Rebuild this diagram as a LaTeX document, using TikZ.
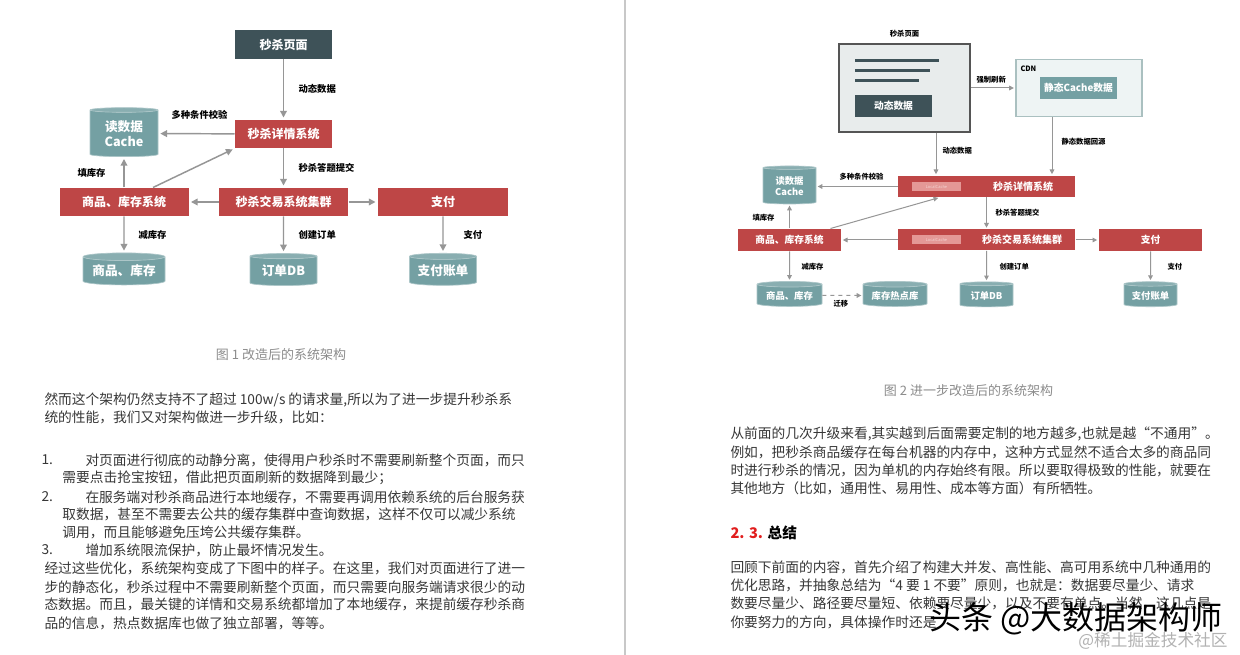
\documentclass[tikz,border=0pt]{standalone}
\usepackage{fontspec}
\setmainfont{Noto Sans CJK SC}
\usetikzlibrary{arrows.meta,shapes.geometric}

\definecolor{skred}{RGB}{190,70,70}
\definecolor{skslate}{RGB}{62,82,88}
\definecolor{skteal}{RGB}{116,160,163}
\definecolor{skarrow}{RGB}{150,150,150}
\definecolor{skpage}{RGB}{232,236,236}
\definecolor{skcdn}{RGB}{238,244,244}
\definecolor{skpink}{RGB}{228,152,150}
\definecolor{sktext}{RGB}{55,55,55}
\definecolor{skcap}{RGB}{140,140,140}
\definecolor{skhead}{RGB}{225,30,30}

\tikzset{every picture/.style={line width=0.75pt}}
\tikzset{
  redbox/.style={fill=skred, text=white, inner sep=0pt, font=\fontsize{9}{9}\selectfont\bfseries},
  redboxsm/.style={fill=skred, inner sep=0pt},
  slatebox/.style={fill=skslate, text=white, inner sep=0pt, font=\fontsize{9}{9}\selectfont\bfseries},
  dbcyl/.style={cylinder, shape border rotate=90, aspect=0.12, cylinder uses custom fill,
    cylinder body fill=skteal, cylinder end fill=skteal!85!white, draw=skteal!60!white,
    line width=0.5pt, text=white, inner sep=0pt, align=center, font=\fontsize{9.5}{11}\selectfont\bfseries},
  dbcylsm/.style={dbcyl, font=\fontsize{7}{8.5}\selectfont\bfseries},
  lbl/.style={anchor=west, inner sep=0pt, font=\fontsize{7}{7}\selectfont\bfseries},
  lblsm/.style={anchor=west, inner sep=0pt, font=\fontsize{5.5}{5.5}\selectfont\bfseries},
  boxtxtsm/.style={inner sep=0pt, text=white, font=\fontsize{7.5}{7.5}\selectfont\bfseries},
  lcbox/.style={fill=skpink, text=skpink!40!white, inner sep=0pt, minimum width=36.75pt, minimum height=6.75pt, font=\fontsize{3}{3}\selectfont},
  flow/.style={draw=skarrow, line width=1.1pt, shorten >=1.5pt, -{Triangle[length=5pt,width=5pt]}},
  flowsm/.style={draw=skarrow, line width=0.75pt, shorten >=1pt, -{Triangle[length=3.5pt,width=3.5pt]}},
  body/.style={anchor=west, inner sep=0pt, text=sktext, font=\fontsize{10.3}{10.3}\selectfont},
  caption/.style={inner sep=0pt, text=skcap, font=\fontsize{9.75}{9.75}\selectfont}
}

\begin{document}
\begin{tikzpicture}[x=0.75pt,y=0.75pt,yscale=-1,xscale=1]
    %set diagram left start at 0, and has height of 655
    \fill[white] (0,0) rectangle (1240,655);
    \useasboundingbox (0,0) rectangle (1240,655);

    %Straight Lines: page divider
    \draw [color={rgb, 255:red, 200; green, 200; blue, 200 }  ,draw opacity=1 ][line width=1.2]    (625,0) -- (625,655) ;

    %%%%% Figure 1
    %Shape: Rectangle
    \node [slatebox, minimum width=72.75pt, minimum height=21.75pt] (page1) at (283.5,44.5) {秒杀页面};
    %Shape: Rectangle
    \node [redbox, minimum width=72.75pt, minimum height=21pt] (detail1) at (283.5,134) {秒杀详情系统};
    %Shape: Can
    \node [dbcyl, minimum width=51pt, minimum height=36.75pt] (cache1) at (124,133.5) {读数据\\Cache};
    %Shape: Rectangle
    \node [redbox, minimum width=96.75pt, minimum height=21pt] (goods1) at (124,202) {商品、库存系统};
    %Shape: Rectangle
    \node [redbox, minimum width=96.75pt, minimum height=21pt] (trade1) at (283.5,202) {秒杀交易系统集群};
    %Shape: Rectangle
    \node [redbox, minimum width=97.5pt, minimum height=21pt] (pay1) at (443,202) {支付};
    %Shape: Can
    \node [dbcyl, minimum width=61.5pt, minimum height=24pt] (stock1) at (124,271) {商品、库存};
    %Shape: Can
    \node [dbcyl, minimum width=50.25pt, minimum height=24pt] (order1) at (283.5,271) {订单DB};
    %Shape: Can
    \node [dbcyl, minimum width=50.25pt, minimum height=24pt] (bill1) at (443,271) {支付账单};

    %Straight Lines
    \draw [flow] (page1) -- (detail1) ;
    \draw [flow] (detail1) -- (cache1) ;
    \draw [flow] (goods1) -- (cache1) ;
    \draw [flow] ([xshift=21.75pt]goods1.north) -- (detail1.south west) ;
    \draw [flow] (detail1) -- (trade1) ;
    \draw [flow] (trade1) -- (goods1) ;
    \draw [flow] (trade1) -- (pay1) ;
    \draw [flow] (goods1) -- (stock1) ;
    \draw [flow] (trade1) -- (order1) ;
    \draw [flow] (pay1) -- (bill1) ;

    % Text Node
    \node [lbl] (l1dyn) at (298,89) {动态数据};
    % Text Node
    \node [lbl] (l1chk) at (171,115) {多种条件校验};
    % Text Node
    \node [lbl] (l1ans) at (298,168) {秒杀答题提交};
    % Text Node
    \node [lbl] (l1fill) at (77,173) {填库存};
    % Text Node
    \node [lbl] (l1dec) at (138,235) {减库存};
    % Text Node
    \node [lbl] (l1ord) at (298,235) {创建订单};
    % Text Node
    \node [lbl] (l1pay) at (463,235) {支付};

    % Text Node
    \node [caption] (cap1) at (281,355) {图 1 改造后的系统架构};

    % Text Node
    \node [body] (p1a) at (44,400) {然而这个架构仍然支持不了超过 100w/s 的请求量,所以为了进一步提升秒杀系};
    \node [body] (p1b) at (44,417) {统的性能，我们又对架构做进一步升级，比如：};
    \node [body] (n1) at (41,460) {1.};
    \node [body] (i1a) at (85,460) {对页面进行彻底的动静分离，使得用户秒杀时不需要刷新整个页面，而只};
    \node [body] (i1b) at (62,478) {需要点击抢宝按钮，借此把页面刷新的数据降到最少；};
    \node [body] (n2) at (41,497) {2.};
    \node [body] (i2a) at (85,497) {在服务端对秒杀商品进行本地缓存，不需要再调用依赖系统的后台服务获};
    \node [body] (i2b) at (62,514) {取数据，甚至不需要去公共的缓存集群中查询数据，这样不仅可以减少系统};
    \node [body] (i2c) at (62,532) {调用，而且能够避免压垮公共缓存集群。};
    \node [body] (n3) at (41,550) {3.};
    \node [body] (i3a) at (85,550) {增加系统限流保护，防止最坏情况发生。};
    \node [body] (p2a) at (44,568) {经过这些优化，系统架构变成了下图中的样子。在这里，我们对页面进行了进一};
    \node [body] (p2b) at (44,587) {步的静态化，秒杀过程中不需要刷新整个页面，而只需要向服务端请求很少的动};
    \node [body] (p2c) at (44,604) {态数据。而且，最关键的详情和交易系统都增加了本地缓存，来提前缓存秒杀商};
    \node [body] (p2d) at (44,623) {品的信息，热点数据库也做了独立部署，等等。};

    %%%%% Figure 2
    % Text Node
    \node [lblsm, anchor=center] (l2page) at (904.5,34) {秒杀页面};
    %Shape: Rectangle
    \node [fill=skpage, draw={rgb, 255:red, 85; green, 85; blue, 85 }, line width=1.2, minimum width=98.25pt, minimum height=66pt] (page2) at (904.5,88) {};
    %Straight Lines
    \draw [color=skslate, line width=2.25] (855,61) -- (939,61) (855,71) -- (930,71) (855,81) -- (919,81) ;
    %Shape: Rectangle
    \node [slatebox, minimum width=57.75pt, minimum height=16.5pt, font=\fontsize{7.3}{7.3}\selectfont\bfseries] (dyn2) at (893.5,106) {动态数据};
    %Shape: Rectangle
    \node [fill=skcdn, draw={rgb, 255:red, 170; green, 192; blue, 192 }, line width=1.2, minimum width=94.5pt, minimum height=42.75pt] (cdn2) at (1079,88) {};
    % Text Node
    \node [lblsm] (l2cdn) at (1020,69) {CDN};
    %Shape: Rectangle
    \node [fill=skteal, text=white, inner sep=0pt, minimum width=57.75pt, minimum height=16.5pt, font=\fontsize{7.3}{7.3}\selectfont\bfseries] (static2) at (1078.5,88) {静态Cache数据};

    %Shape: Rectangle
    \node [redboxsm, minimum width=132.75pt, minimum height=15.75pt] (detail2) at (986.5,186.5) {};
    \node [lcbox] (lc2a) at (936.5,186.5) {LocalCache};
    \node [boxtxtsm] (detail2t) at (1023,186.5) {秒杀详情系统};
    %Shape: Rectangle
    \node [redboxsm, minimum width=132.75pt, minimum height=15.75pt] (trade2) at (986.5,240) {};
    \node [lcbox] (lc2b) at (936.5,240) {LocalCache};
    \node [boxtxtsm] (trade2t) at (1022,240) {秒杀交易系统集群};
    %Shape: Can
    \node [dbcylsm, minimum width=39.75pt, minimum height=28.5pt] (cache2) at (789.5,186) {读数据\\Cache};
    %Shape: Rectangle
    \node [redbox, minimum width=77.25pt, minimum height=16.5pt, font=\fontsize{7.3}{7.3}\selectfont\bfseries] (goods2) at (789.5,240) {商品、库存系统};
    %Shape: Rectangle
    \node [redbox, minimum width=77.25pt, minimum height=16.5pt, font=\fontsize{7.3}{7.3}\selectfont\bfseries] (pay2) at (1150.5,240) {支付};
    %Shape: Can
    \node [dbcylsm, minimum width=48.75pt, minimum height=18.75pt] (stock2) at (789.5,295.5) {商品、库存};
    %Shape: Can
    \node [dbcylsm, minimum width=48pt, minimum height=18.75pt] (hot2) at (895,295.5) {库存热点库};
    %Shape: Can
    \node [dbcylsm, minimum width=39.75pt, minimum height=18.75pt] (order2) at (986.5,295.5) {订单DB};
    %Shape: Can
    \node [dbcylsm, minimum width=39.75pt, minimum height=18.75pt] (bill2) at (1150.5,295.5) {支付账单};

    \coordinate (dynx) at (936,0);
    \coordinate (srcx) at (1052,0);
    %Straight Lines
    \draw [flowsm] (page2) -- (cdn2) ;
    \draw [flowsm] (page2.south -| dynx) -- (detail2.north -| dynx) ;
    \draw [flowsm] (cdn2.south -| srcx) -- (detail2.north -| srcx) ;
    \draw [flowsm] (detail2.west) -- (detail2.west -| cache2.east) ;
    \draw [flowsm] (goods2) -- (cache2) ;
    \draw [flowsm] ([xshift=-8.25pt]goods2.north east) -- ([xshift=31.5pt]detail2.south west) ;
    \draw [flowsm] (detail2) -- (trade2) ;
    \draw [flowsm] (trade2) -- (goods2) ;
    \draw [flowsm] (trade2) -- (pay2) ;
    \draw [flowsm] (goods2) -- (stock2) ;
    \draw [flowsm] (trade2) -- (order2) ;
    \draw [flowsm] (pay2) -- (bill2) ;
    \draw [flowsm, dashed] (stock2) -- (hot2) ;

    % Text Node
    \node [lblsm] (l2force) at (976,80) {强制刷新};
    \node [lblsm] (l2dyn) at (942,151) {动态数据};
    \node [lblsm] (l2src) at (1061,142) {静态数据回源};
    \node [lblsm] (l2chk) at (839,177) {多种条件校验};
    \node [lblsm] (l2fill) at (752,218) {填库存};
    \node [lblsm] (l2ans) at (995,213) {秒杀答题提交};
    \node [lblsm] (l2dec) at (801,267) {减库存};
    \node [lblsm] (l2ord) at (999,267) {创建订单};
    \node [lblsm] (l2pay) at (1167,267) {支付};
    \node [lblsm] (l2move) at (833,304) {迁移};

    % Text Node
    \node [caption] (cap2) at (968.5,391) {图 2 进一步改造后的系统架构};

    % Text Node
    \node [body] (r1a) at (730,434) {从前面的几次升级来看,其实越到后面需要定制的地方越多,也就是越“不通用”。};
    \node [body] (r1b) at (730,452) {例如，把秒杀商品缓存在每台机器的内存中，这种方式显然不适合太多的商品同};
    \node [body] (r1c) at (730,470) {时进行秒杀的情况，因为单机的内存始终有限。所以要取得极致的性能，就要在};
    \node [body] (r1d) at (730,488) {其他地方（比如，通用性、易用性、成本等方面）有所牺牲。};
    \node [body, text=black, font=\fontsize{11}{11}\selectfont\bfseries] (head23) at (730,533) {\textcolor{skhead}{2. 3.} 总结};
    \node [body] (r2a) at (730,567) {回顾下前面的内容，首先介绍了构建大并发、高性能、高可用系统中几种通用的};
    \node [body] (r2b) at (730,585) {优化思路，并抽象总结为“4 要 1 不要”原则，也就是：数据要尽量少、请求};
    \node [body] (r2c) at (730,603) {数要尽量少、路径要尽量短、依赖要尽量少，以及不要有单点。当然，这几点是};
    \node [body] (r2d) at (730,622) {你要努力的方向，具体操作时还是};

    % Text Node
    \node [inner sep=0pt, font=\fontsize{24}{24}\selectfont] (wm1) at (1076,619) {头条 @大数据架构师};
    \node [inner sep=0pt, text=black!30, font=\fontsize{12.5}{12.5}\selectfont] (wm2) at (1153,641) {@稀土掘金技术社区};

\end{tikzpicture}
\end{document}
